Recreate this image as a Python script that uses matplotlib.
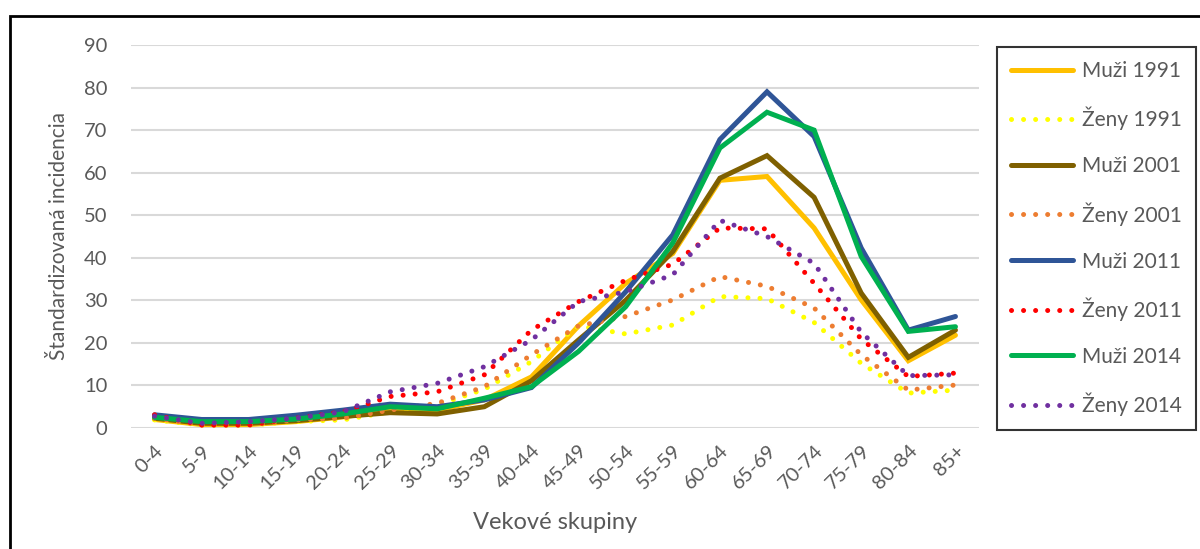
import matplotlib
matplotlib.use("Agg")
import matplotlib.pyplot as plt
from matplotlib.patches import Rectangle

plt.rcParams['font.family'] = ['Lato', 'DejaVu Sans']

# Age groups and standardized incidence per series
categories = ['0-4', '5-9', '10-14', '15-19', '20-24', '25-29', '30-34', '35-39', '40-44',
              '45-49', '50-54', '55-59', '60-64', '65-69', '70-74', '75-79', '80-84', '85+']

muzi_1991 = [2.0, 0.8, 0.8, 1.5, 2.6, 4.2, 4.2, 6.6, 12.0, 24.0, 34.0, 41.0, 58.2, 59.1, 47.0, 30.1, 15.8, 21.8]
zeny_1991 = [1.9, 0.7, 0.7, 1.5, 1.9, 3.8, 5.4, 9.1, 15.6, 24.0, 22.1, 24.2, 30.9, 30.4, 24.8, 15.2, 8.2, 8.9]
muzi_2001 = [2.3, 1.1, 1.1, 1.7, 2.7, 3.6, 3.3, 5.0, 11.1, 20.7, 30.0, 41.5, 58.7, 64.0, 54.2, 31.7, 16.6, 23.0]
zeny_2001 = [2.3, 0.7, 0.7, 1.9, 2.3, 4.2, 5.8, 9.7, 17.2, 24.0, 26.2, 30.1, 35.6, 33.3, 28.2, 17.2, 8.9, 10.1]
muzi_2011 = [3.1, 2.0, 2.0, 3.0, 4.2, 5.6, 5.0, 6.6, 9.5, 20.0, 32.0, 45.4, 67.8, 79.0, 68.5, 42.3, 23.0, 26.2]
zeny_2011 = [3.1, 0.7, 0.7, 2.3, 3.8, 7.4, 8.5, 12.5, 23.0, 29.7, 34.7, 38.5, 47.0, 46.8, 34.0, 20.9, 12.1, 12.9]
muzi_2014 = [2.5, 1.5, 1.5, 2.1, 3.3, 5.0, 4.5, 7.0, 9.7, 18.0, 28.5, 43.5, 65.8, 74.2, 70.0, 40.3, 22.7, 23.8]
zeny_2014 = [2.8, 1.1, 1.5, 2.3, 3.8, 8.5, 10.5, 14.4, 20.7, 29.7, 32.0, 36.0, 48.8, 45.0, 38.7, 22.5, 12.3, 12.5]

series = [
    ("Muži 1991", muzi_1991, "#FFC000", "solid"),
    ("Ženy 1991", zeny_1991, "#FFFF00", "dot"),
    ("Muži 2001", muzi_2001, "#7F6000", "solid"),
    ("Ženy 2001", zeny_2001, "#ED7D31", "dot"),
    ("Muži 2011", muzi_2011, "#2F5597", "solid"),
    ("Ženy 2011", zeny_2011, "#FF0000", "dot"),
    ("Muži 2014", muzi_2014, "#00B050", "solid"),
    ("Ženy 2014", zeny_2014, "#7030A0", "dot"),
]

text_col = "#595959"

fig = plt.figure(figsize=(12, 5.49), dpi=100)
ax = fig.add_axes([131 / 1200, 1 - 428 / 549, 848 / 1200, 383 / 549])

x = list(range(len(categories)))
for label, vals, col, style in series:
    if style == "solid":
        ax.plot(x, vals, color=col, lw=3.6, label=label, solid_capstyle='round', solid_joinstyle='miter')
    else:
        ax.plot(x, vals, color=col, lw=3.6, linestyle=(0, (0.01, 2.4)), dash_capstyle='round', label=label)

ax.set_xlim(-0.5, len(categories) - 0.5)
ax.set_ylim(0, 90)
ax.set_yticks(range(0, 91, 10))
ax.set_xticks(x)
ax.set_xticklabels(categories, rotation=45, ha='right', rotation_mode='anchor')
ax.tick_params(axis='both', length=0, colors=text_col, labelsize=14.5)
ax.tick_params(axis='y', pad=17)
ax.tick_params(axis='x', pad=10)
ax.grid(axis='y', color='#D9D9D9', lw=1.5)
ax.set_axisbelow(True)
for s in ax.spines.values():
    s.set_visible(False)

ax.set_ylabel("Štandardizovaná incidencia", fontsize=15, color=text_col, labelpad=11)
ax.set_xlabel("Vekové skupiny", fontsize=17, color=text_col, labelpad=14)

leg = fig.legend(loc='upper left', bbox_to_anchor=(997 / 1200, 1 - 47 / 549), borderaxespad=0,
                 fontsize=15, handlelength=2.95, labelspacing=1.24, fancybox=False,
                 edgecolor='black', borderpad=0.68, handletextpad=0.45)
leg.get_frame().set_linewidth(1.5)
for t in leg.get_texts():
    t.set_color(text_col)

# outer chart border
fig.patches.append(Rectangle((10 / 1200, -0.1), 1.2, 1 - 16 / 549 + 0.1, transform=fig.transFigure,
                             fill=False, edgecolor='black', lw=2))

fig.savefig("out.png", dpi=100)
